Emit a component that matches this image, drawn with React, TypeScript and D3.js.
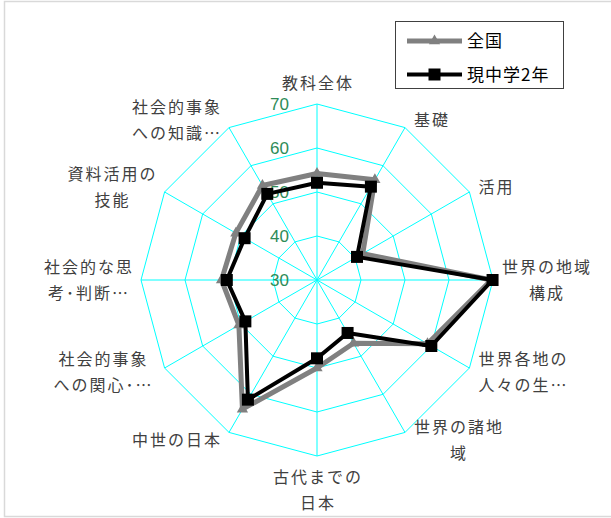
import React from "react";
import * as d3 from "d3";

// categories, clockwise from the top
const categories = [
  "教科全体",
  "基礎",
  "活用",
  "世界の地域\n構成",
  "世界各地の\n人々の生…",
  "世界の諸地\n域",
  "古代までの\n日本",
  "中世の日本",
  "社会的事象\nへの関心･…",
  "社会的な思\n考･判断…",
  "資料活用の\n技能",
  "社会的事象\nへの知識…"
];

const zenkoku = [54.2, 56.3, 42.0, 69.6, 59.0, 46.6, 50.0, 63.9, 50.5, 51.7, 51.3, 54.8];
const gen2 = [52.1, 54.5, 40.5, 69.9, 60.0, 43.9, 47.8, 61.4, 48.8, 50.5, 49.0, 52.6];

const ticks = [30, 40, 50, 60, 70];
const seriesNames = ["全国", "現中学2年"];

const W = 611,
  H = 518;
const cx = 317,
  cy = 280,
  R = 176;

const App = () => {
  const r = d3.scaleLinear().domain([30, 70]).range([0, R]);
  const angle = d3
    .scaleLinear()
    .domain([0, categories.length])
    .range([0, 2 * Math.PI]);

  const pt = (i: number, rad: number) => [
    cx + Math.sin(angle(i)) * rad,
    cy - Math.cos(angle(i)) * rad
  ];

  const radial = d3
    .lineRadial<number>()
    .angle((d, i) => angle(i))
    .radius(d => r(d))
    .curve(d3.curveLinearClosed);

  const ringPath = (v: number) =>
    d3
      .lineRadial<number>()
      .angle((d, i) => angle(i))
      .radius(() => r(v))
      .curve(d3.curveLinearClosed)(categories.map(() => v));

  const font = "'Noto Sans CJK JP', 'Liberation Sans', sans-serif";
  const charW = 18,
    lineH = 26;

  const tri = d3.symbol().type(d3.symbolTriangle).size(55)();

  return (
    <svg
      width={W}
      height={H}
      style={{ position: "absolute", left: 0, top: 0, background: "#fff" }}
    >
      <rect x={4.5} y={1.5} width={W} height={515} fill="#fff" stroke="#d9d9d9" strokeWidth={1.5} />

      <g transform={`translate(${cx},${cy})`}>
        {ticks.slice(1).map(t => (
          <path key={t} d={ringPath(t) || ""} fill="none" stroke="#00ffff" strokeWidth={1} />
        ))}
        {categories.map((c, i) => (
          <line
            key={c}
            x1={0}
            y1={0}
            x2={Math.sin(angle(i)) * R}
            y2={-Math.cos(angle(i)) * R}
            stroke="#00ffff"
            strokeWidth={1}
          />
        ))}
      </g>

      {ticks.map(t => (
        <text
          key={t}
          x={cx - 28}
          y={cy - r(t)}
          dy="0.36em"
          textAnchor="end"
          fill="#2e8b57"
          fontSize={17}
          fontFamily="'Liberation Sans', Arial, sans-serif"
        >
          {t}
        </text>
      ))}

      {categories.map((c, i) => {
        const lines = c.split("\n");
        const a = angle(i);
        const s = Math.sin(a),
          co = Math.cos(a);
        const halfW = (d3.max(lines, l => l.length) as number) * charW / 2;
        const halfH = (lines.length * lineH) / 2;
        const [px, py] = pt(i, R);
        let dx = 0,
          dy = 0;
        if (Math.abs(s) < 0.01) {
          dy = -co * (halfH + 8);
        } else {
          dx = Math.sign(s) * (halfW + 8);
          dy = -co * 9;
        }
        const tx = px + dx;
        const ty = py + dy - halfH + lineH / 2;
        return (
          <text
            key={c}
            x={tx}
            y={ty}
            textAnchor="middle"
            fill="#404040"
            fontSize={16}
            letterSpacing={2}
            fontFamily={font}
          >
            {lines.map((l, j) => (
              <tspan key={j} x={tx + 1} y={ty + j * lineH} dy="0.36em">
                {l}
              </tspan>
            ))}
          </text>
        );
      })}

      <g transform={`translate(${cx},${cy})`}>
        <path d={radial(zenkoku) || ""} fill="none" stroke="#808080" strokeWidth={5} strokeLinejoin="round" />
        {zenkoku.map((v, i) => (
          <path
            key={i}
            d={tri || ""}
            fill="#808080"
            transform={`translate(${Math.sin(angle(i)) * r(v)},${-Math.cos(angle(i)) * r(v)})`}
          />
        ))}
        <path d={radial(gen2) || ""} fill="none" stroke="#000" strokeWidth={4} strokeLinejoin="round" />
        {gen2.map((v, i) => (
          <rect
            key={i}
            x={Math.sin(angle(i)) * r(v) - 6}
            y={-Math.cos(angle(i)) * r(v) - 6}
            width={12}
            height={12}
            fill="#000"
          />
        ))}
      </g>

      <g>
        <rect x={395.5} y={21.5} width={168} height={67} fill="#fff" stroke="#404040" strokeWidth={1} />
        {seriesNames.map((n, i) => {
          const y = 41 + i * 33.5;
          return (
            <g key={n}>
              <line x1={407} x2={462} y1={y} y2={y} stroke={i === 0 ? "#808080" : "#000"} strokeWidth={i === 0 ? 5 : 4} />
              {i === 0 ? (
                <path d={tri || ""} fill="#808080" transform={`translate(434.5,${y})`} />
              ) : (
                <rect x={428.5} y={y - 6} width={12} height={12} fill="#000" />
              )}
              <text x={467} y={y} dy="0.36em" fontSize={17} letterSpacing={1} fill="#000" fontFamily={font}>
                {n}
              </text>
            </g>
          );
        })}
      </g>
    </svg>
  );
};

export default App;
